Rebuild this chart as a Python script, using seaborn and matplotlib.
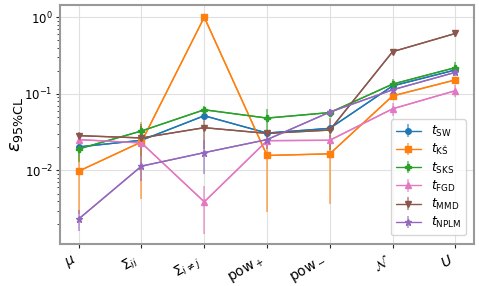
import numpy as np
import pandas as pd
import matplotlib
matplotlib.use("Agg")
import matplotlib.pyplot as plt
import seaborn as sns

categories = [r"$\mu$", r"$\Sigma_{ii}$", r"$\Sigma_{i\neq j}$", r"pow$_+$", r"pow$_-$", r"$\mathcal{N}$", r"$U$"]

series_names = ["SW", "KS", "SKS", "FGD", "MMD", "NPLM"]
legend_labels = [r"$t_{\rm SW}$", r"$t_{\rm KŠ}$", r"$t_{\rm SKS}$", r"$t_{\rm FGD}$", r"$t_{\rm MMD}$", r"$t_{\rm NPLM}$"]

sw_vals = [0.0203, 0.0248, 0.0518, 0.0308, 0.0355, 0.127, 0.205]
sw_err = [0.002, 0.002, 0.004, 0.003, 0.003, 0.01, 0.015]

ks_vals = [0.0098, 0.0236, 1.0, 0.0157, 0.0165, 0.094, 0.152]
ks_err = [0.0071, 0.0194, 0.02, 0.0128, 0.0128, 0.008, 0.012]

sks_vals = [0.0191, 0.0328, 0.062, 0.0483, 0.057, 0.134, 0.22]
sks_err = [0.006, 0.008, 0.008, 0.015, 0.006, 0.022, 0.04]

fgd_vals = [0.0253, 0.0229, 0.0039, 0.0245, 0.0248, 0.0638, 0.110]
fgd_err = [0.002, 0.002, 0.0024, 0.002, 0.002, 0.012, 0.02]

mmd_vals = [0.0285, 0.0266, 0.0362, 0.0305, 0.0337, 0.355, 0.614]
mmd_err = [0.003, 0.011, 0.017, 0.003, 0.015, 0.03, 0.07]

nplm_vals = [0.00233, 0.0114, 0.0171, 0.0253, 0.0578, 0.113, 0.191]
nplm_err = [0.0007, 0.004, 0.008, 0.006, 0.006, 0.01, 0.02]

values = [sw_vals, ks_vals, sks_vals, fgd_vals, mmd_vals, nplm_vals]
errors = [sw_err, ks_err, sks_err, fgd_err, mmd_err, nplm_err]
markers = ["o", "s", "P", "^", "v", "*"]

sns.set_style("whitegrid")
tab = sns.color_palette("tab10")
colors = [tab[0], tab[1], tab[2], tab[6], tab[5], tab[4]]

fig, ax = plt.subplots(figsize=(4.79, 2.86), dpi=100)
fig.subplots_adjust(left=0.125, right=0.99, top=0.983, bottom=0.147)

x = np.arange(len(categories))
for vals, errs, lab, col, mk in zip(values, errors, legend_labels, colors, markers):
    df = pd.DataFrame({"x": x, "y": vals})
    sns.lineplot(data=df, x="x", y="y", ax=ax, color=col, lw=1.0, legend=False)
    ax.errorbar(x, vals, yerr=errs, fmt=mk, color=col, ms=4 if mk != "*" else 5,
                elinewidth=1.2, capsize=0, ecolor=matplotlib.colors.to_rgba(col, 0.65),
                linestyle="-", lw=1.0, label=lab)

ax.set_yscale("log")
ax.set_ylim(1.1e-3, 1.45)
ax.set_xlim(-0.3, 6.3)
ax.set_xticks(x)
ax.set_xticklabels(categories, rotation=30, ha="right", fontsize=10)
ax.tick_params(axis="y", labelsize=8.5, which="major", length=3, left=True, pad=2, labelcolor="black")
ax.tick_params(axis="y", which="minor", length=2, left=True)
ax.tick_params(axis="x", length=3, bottom=True, labelcolor="black")
ax.set_xlabel("")
ax.set_ylabel(r"$\varepsilon_{95\%\rm CL}$", fontsize=13, color="black")
ax.yaxis.set_label_coords(-0.083, 0.5)
ax.grid(True, which="major", color="0.88", lw=0.8)
ax.grid(False, which="minor")
for s in ax.spines.values():
    s.set_color("0.6")
    s.set_linewidth(1.5)

leg = ax.legend(loc="lower right", fontsize=9, frameon=True, handlelength=2.0,
                borderpad=0.4, labelspacing=0.25, bbox_to_anchor=(0.995, 0.01))
for t in leg.get_texts():
    t.set_color("black")

fig.savefig("out.png", dpi=100)
